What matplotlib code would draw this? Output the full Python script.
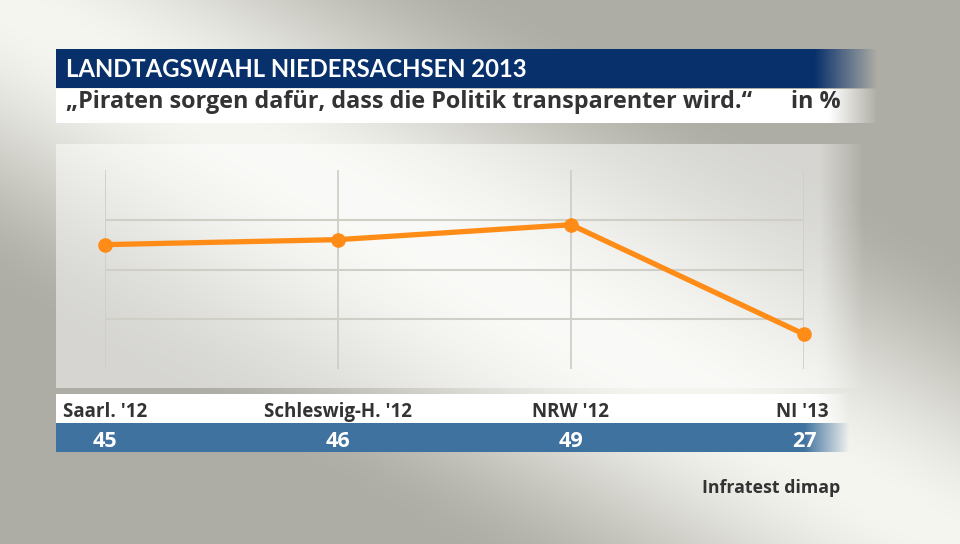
import numpy as np
import matplotlib
matplotlib.use("Agg")
import matplotlib.pyplot as plt

# data
categories = ["Saarl. '12", "Schleswig-H. '12", "NRW '12", "NI '13"]
values = [45, 46, 49, 27]
title = "LANDTAGSWAHL NIEDERSACHSEN 2013"
subtitle = "\u201ePiraten sorgen dafür, dass die Politik transparenter wird.\u201c"
unit = "in %"
source = "Infratest dimap"

W, H = 960, 544
plt.rcParams['font.family'] = ['Open Sans', 'DejaVu Sans']
TXT = "#333333"

fig = plt.figure(figsize=(W / 100, H / 100), dpi=100)
bg = fig.add_axes([0, 0, 1, 1])
bg.set_xlim(0, W)
bg.set_ylim(H, 0)
bg.axis('off')

# background: light along the diagonal, darker to top right / bottom left
xs, ys = np.meshgrid(np.arange(W) / W, np.arange(H) / H)
d = np.abs(xs - ys)
t = np.clip(d / 0.55, 0, 1)
t = t * t * (3 - 2 * t)
light = np.array([246, 246, 241]) / 255
dark = np.array([174, 173, 165]) / 255
img = light[None, None, :] + (dark - light)[None, None, :] * t[..., None]
bg.imshow(img, extent=[0, W, H, 0], zorder=0, aspect='auto')


def band(x0, x1, y0, y1, color, fade0, fade1, alpha=1.0, z=1):
    # horizontal strip that fades out on its right end
    n = int(x1 - x0)
    xx = np.linspace(x0, x1, n)
    a = np.clip((fade1 - xx) / (fade1 - fade0), 0, 1) * alpha
    rgba = np.zeros((1, n, 4))
    rgba[0, :, :3] = matplotlib.colors.to_rgb(color)
    rgba[0, :, 3] = a
    bg.imshow(rgba, extent=[x0, x1, y1, y0], zorder=z, aspect='auto', interpolation='bilinear')


# panel behind the chart
band(56, 880, 144, 388, "white", 820, 865, alpha=0.5)
# title bars
band(56, 880, 49, 88, "#08306b", 815, 878, z=2)
band(56, 880, 89, 123, "white", 830, 878, z=2)
# category and value bands
band(56, 860, 394, 423, "white", 815, 850, z=2)
band(56, 860, 423, 452, "#3f729f", 805, 850, z=2)

bg.text(66, 77, title, color="white", fontsize=17.2, fontweight='bold', zorder=3,
        family=['Lato', 'DejaVu Sans'])
bg.text(66, 108, subtitle, color=TXT, fontsize=16.8, fontweight='bold', zorder=3)
bg.text(841, 108, unit, color=TXT, fontsize=16.8, fontweight='bold', ha='right', zorder=3)
bg.text(840, 493, source, color=TXT, fontsize=12.8, fontweight='bold', ha='right', zorder=3)

# line chart
left, right, top, bottom = 105, 804, 170, 369
ax = fig.add_axes([left / W, 1 - bottom / H, (right - left) / W, (bottom - top) / H])
ax.set_xlim(0, len(categories) - 1)
ax.set_ylim(20, 60)
ax.patch.set_alpha(0)
for s in ax.spines.values():
    s.set_visible(False)
ax.set_xticks([])
ax.set_yticks([])
for i in range(len(categories)):
    ax.axvline(i, color="#cfcfc8", lw=1.3, zorder=1)
for g in [30, 40, 50]:
    ax.axhline(g, color="#cfcfc8", lw=1.5, zorder=1)
x = np.arange(len(categories))
ax.plot(x, values, color="#ff8c17", lw=3.8, marker='o', markersize=9.5,
        clip_on=False, zorder=3, solid_capstyle='round')

# labels under the chart
xpix = left + x * (right - left) / (len(categories) - 1)
for i, (c, v) in enumerate(zip(categories, values)):
    if i == 0:
        bg.text(63, 417, c, color=TXT, fontsize=13.5, fontweight='bold', zorder=3)
    elif i == len(categories) - 1:
        bg.text(829, 417, c, color=TXT, fontsize=13.5, fontweight='bold', ha='right', zorder=3)
    else:
        bg.text(xpix[i], 417, c, color=TXT, fontsize=13.5, fontweight='bold', ha='center', zorder=3)
    bg.text(xpix[i], 447, str(v), color="white", fontsize=15.5, fontweight='bold', ha='center', zorder=3)

fig.savefig("out.png", dpi=100)
